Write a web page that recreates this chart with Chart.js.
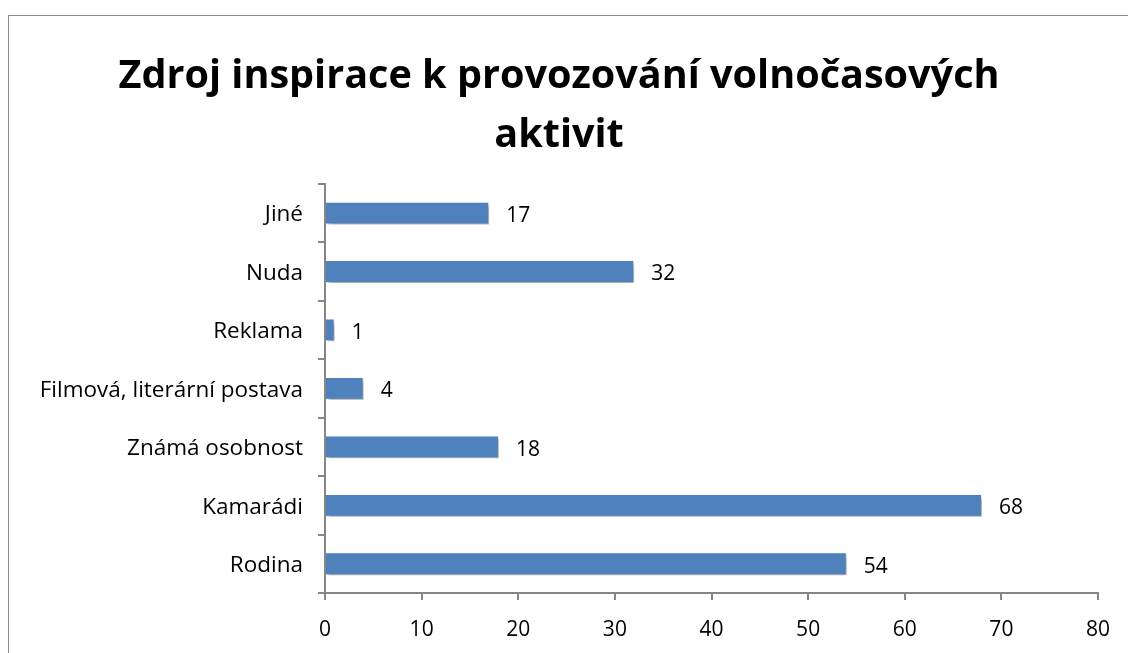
<!DOCTYPE html>
<html>
<head>
<meta charset="utf-8">
<script src="https://cdn.jsdelivr.net/npm/chart.js@4"></script>
<style>
    html, body { margin: 0; padding: 0; background: #fff; overflow: hidden; }
    #wrap { position: relative; width: 1128px; height: 653px; }
    #frame {
        position: absolute; left: 8px; top: 15px; width: 1200px; height: 700px;
        border: 1.5px solid #8c8c8c; box-sizing: border-box; pointer-events: none;
    }
    canvas { position: absolute; left: 0; top: 0; }
</style>
</head>
<body>
<div id="wrap">
    <canvas id="chart" width="1128" height="653"></canvas>
    <div id="frame"></div>
</div>
<script>
// Chart data (top to bottom as shown)
const categories = ['Jiné', 'Nuda', 'Reklama', 'Filmová, literární postava', 'Známá osobnost', 'Kamarádi', 'Rodina'];
const counts = [17, 32, 1, 4, 18, 68, 54];
const xTicks = [0, 10, 20, 30, 40, 50, 60, 70, 80];

const FONT = '"Open Sans", sans-serif';

// Bar shadow + value labels
const barDecor = {
    id: 'barDecor',
    beforeDatasetDraw(chart) {
        const c = chart.ctx;
        c.save();
        c.shadowColor = 'rgba(0, 0, 0, 0.35)';
        c.shadowBlur = 4;
        c.shadowOffsetX = 2;
        c.shadowOffsetY = 3;
    },
    afterDatasetDraw(chart) {
        chart.ctx.restore();
    },
    afterDatasetsDraw(chart) {
        const c = chart.ctx;
        const meta = chart.getDatasetMeta(0);
        c.save();
        c.fillStyle = '#000';
        c.font = '21px ' + FONT;
        c.textBaseline = 'middle';
        c.textAlign = 'left';
        meta.data.forEach((bar, i) => {
            c.fillText(String(counts[i]), bar.x + 17, bar.y + 3);
        });
        c.restore();
    }
};

new Chart(document.getElementById('chart').getContext('2d'), {
    type: 'bar',
    data: {
        labels: categories,
        datasets: [{
            data: counts,
            backgroundColor: '#4F81BD',
            borderColor: '#ffffff',
            borderWidth: 1,
            barPercentage: 0.39,
            categoryPercentage: 1
        }]
    },
    options: {
        indexAxis: 'y',
        responsive: false,
        animation: false,
        layout: { padding: { left: 20, right: 30, top: 0, bottom: 0 } },
        plugins: {
            legend: { display: false },
            tooltip: { enabled: false },
            title: {
                display: true,
                text: ['Zdroj inspirace k provozování volnočasových', 'aktivit'],
                color: '#000',
                font: { family: FONT, size: 39.6, weight: '700', lineHeight: 1.5 },
                padding: { top: 47, bottom: 18 }
            }
        },
        scales: {
            x: {
                min: 0,
                max: 80,
                afterBuildTicks(scale) {
                    scale.ticks = xTicks.map(v => ({ value: v }));
                },
                afterFit(scale) { scale.height = 60; },
                border: { color: '#868686', width: 2 },
                grid: { drawOnChartArea: false, color: '#868686', lineWidth: 2, tickLength: 7 },
                ticks: { color: '#000', font: { family: FONT, size: 21 }, padding: 17 }
            },
            y: {
                afterFit(scale) { scale.width = 305; },
                border: { color: '#868686', width: 2 },
                grid: { drawOnChartArea: false, color: '#868686', lineWidth: 2, tickLength: 7, offset: true },
                ticks: { color: '#000', font: { family: FONT, size: 22.5 }, padding: 15, labelOffset: 2 }
            }
        }
    },
    plugins: [barDecor]
});
</script>
</body>
</html>
